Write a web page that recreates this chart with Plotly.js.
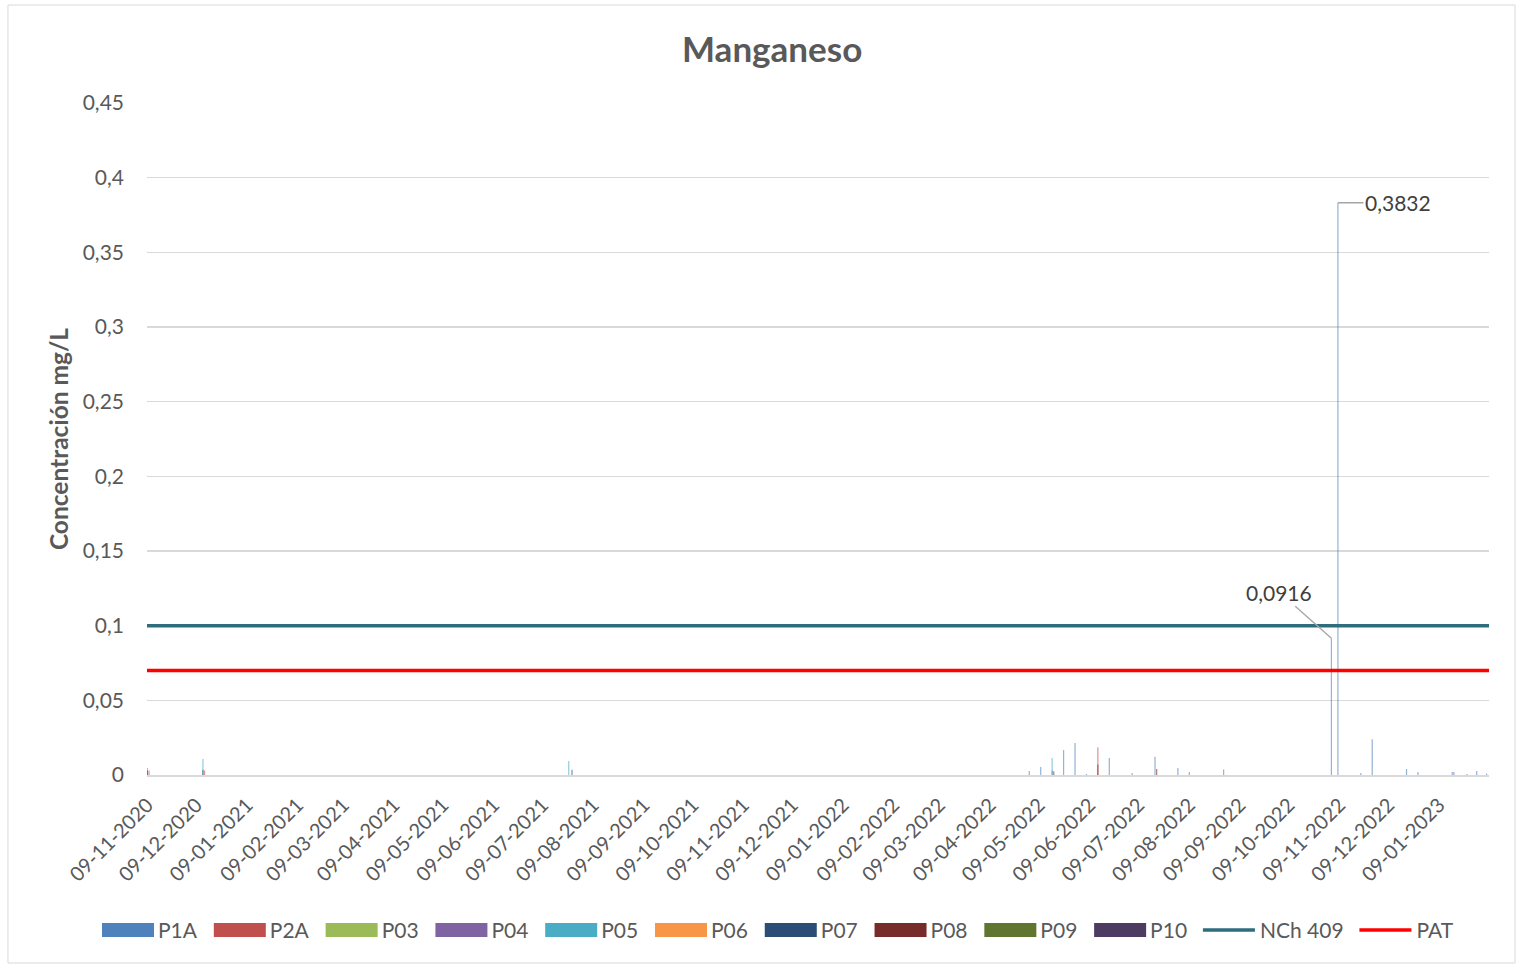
<!DOCTYPE html>
<html>
<head>
<meta charset="utf-8">
<script src="https://cdn.plot.ly/plotly-3.0.1.min.js"></script>
<style>html,body{margin:0;padding:0;background:#fff;}#chart{width:1520px;height:965px;}</style>
</head>
<body>
<div id="chart"></div>
<script>
// ---- Data ----
const seriesNames = ["P1A","P2A","P03","P04","P05","P06","P07","P08","P09","P10"];
const seriesColors = ["#4F81BD","#C0504D","#9BBB59","#8064A2","#4BACC6","#F79646","#2C4D75","#772C2A","#5F7530","#4D3B62"];

const p1aDates = ["2022-05-03","2022-05-10","2022-05-24","2022-05-31","2022-06-07","2022-06-21","2022-07-05","2022-07-19","2022-08-02","2022-08-09","2022-08-30","2022-11-04","2022-11-08","2022-11-22","2022-11-29","2022-12-20","2022-12-27","2023-01-17","2023-01-26","2023-02-01","2023-02-07"];
const p1aValues = [0.0027,0.0054,0.0167,0.0214,0.0007,0.0114,0.0013,0.0123,0.0047,0.0020,0.0036,0.0916,0.3832,0.0013,0.0240,0.0040,0.0020,0.0020,0.0007,0.0027,0.0010];

const p2aDates = ["2020-11-10","2020-12-14","2022-06-14"];
const p2aValues = [0.0030,0.0030,0.0185];

const p03Dates = ["2020-11-09"];
const p03Values = [0];

const p04Dates = ["2022-05-17","2023-01-18"];
const p04Values = [0.0030,0.0020];

const p05Dates = ["2020-11-09","2020-12-13","2021-07-25","2022-05-17"];
const p05Values = [0.0047,0.0107,0.0094,0.0114];

const p06Dates = ["2020-11-09"];
const p06Values = [0];

const p07Dates = ["2020-11-09","2020-12-13","2021-07-27"];
const p07Values = [0.0030,0.0035,0.0035];

const p08Dates = ["2022-05-18","2022-06-14","2022-07-20"];
const p08Values = [0.0025,0.0070,0.0040];

const p09Dates = ["2020-11-09"];
const p09Values = [0];

const p10Dates = ["2020-11-09"];
const p10Values = [0];

const limitDates = ["2020-11-08 18:00","2023-02-08 12:00"];
const nchValues = [0.1,0.1];
const patValues = [0.07,0.07];

const yTicks = [0,0.05,0.1,0.15,0.2,0.25,0.3,0.35,0.4,0.45];

const labelA = {x:"2022-11-04", y:0.0916, text:"0,0916"};
const labelB = {x:"2022-11-08", y:0.3832, text:"0,3832"};

// ---- Build traces ----
const allDates = [p1aDates,p2aDates,p03Dates,p04Dates,p05Dates,p06Dates,p07Dates,p08Dates,p09Dates,p10Dates];
const allValues = [p1aValues,p2aValues,p03Values,p04Values,p05Values,p06Values,p07Values,p08Values,p09Values,p10Values];
const DAY = 86400000;
const traces = seriesNames.map((n,i)=>({
  type:"bar", name:n, x:allDates[i], y:allValues[i],
  width: allDates[i].map(()=>DAY*0.75),
  marker:{color:seriesColors[i], opacity:0.6, line:{width:0}},
  hoverinfo:"x+y+name"
}));
traces.push({type:"scatter", mode:"lines", name:"NCh 409", x:limitDates, y:nchValues, line:{color:"#2E6C7E", width:3.5}});
traces.push({type:"scatter", mode:"lines", name:"PAT", x:limitDates, y:patValues, line:{color:"#FF0000", width:3.5}});

const FONT = "Lato, 'Open Sans', sans-serif";
const layout = {
  width:1520, height:965,
  paper_bgcolor:"#ffffff", plot_bgcolor:"#ffffff",
  separators:",.",
  barmode:"overlay",
  margin:{l:147, r:31, t:103, b:190},
  font:{family:FONT, color:"#595959", size:21},
  title:{text:"<b>Manganeso</b>", font:{family:FONT, size:35, color:"#595959"}, x:0.508, xref:"container", y:0.948, yref:"container", yanchor:"middle"},
  xaxis:{type:"date", range:limitDates, tick0:"2020-11-09", dtick:"M1", tickformat:"%d-%m-%Y", tickangle:-45,
         showgrid:false, showline:true, linecolor:"#d9d9d9", linewidth:1.5, ticks:"", zeroline:false,
         ticklabelstandoff:9, tickfont:{size:20, color:"#595959"}, fixedrange:true},
  yaxis:{range:[0,0.45], tickvals:yTicks, showgrid:true, gridcolor:"#d9d9d9", gridwidth:1.2, zeroline:false,
         showline:false, ticks:"", tickfont:{size:21, color:"#595959"}, ticklabelstandoff:22,
         title:{text:"<b>Concentración mg/L</b>", font:{size:24.5, color:"#595959"}, standoff:7}},
  legend:{orientation:"h", x:0.511, xref:"container", xanchor:"center", y:0.036, yref:"container", yanchor:"middle",
          font:{size:21, color:"#595959"}, itemwidth:52, traceorder:"normal"},
  showlegend:true,
  annotations:[
    {x:labelA.x, y:labelA.y, text:labelA.text, showarrow:true, arrowhead:0, arrowwidth:1.3, arrowcolor:"#a6a6a6", ax:-52, ay:-46, font:{size:21, color:"#404040"}},
    {x:labelB.x, y:labelB.y, text:labelB.text, showarrow:true, arrowhead:0, arrowwidth:1.3, arrowcolor:"#a6a6a6", ax:60, ay:0, font:{size:21, color:"#404040"}}
  ],
  shapes:[
    {type:"rect", xref:"paper", yref:"paper", x0:-0.1036, x1:1.0194, y0:-0.2798, y1:1.1458, line:{color:"#d9d9d9", width:1}, fillcolor:"rgba(0,0,0,0)", layer:"below"}
  ]
};
Plotly.newPlot("chart", traces, layout, {displayModeBar:false, staticPlot:true}).then(gd => {
  // Excel-like legend: wide swatches, spacing as in the original
  gd.querySelectorAll('.legend, .legend [clip-path]').forEach(e => e.removeAttribute('clip-path'));
  const items = Array.from(gd.querySelectorAll('.legend .traces'));
  let cursor = 102;            // page x where the first swatch starts
  const SW = 52, GAP_T = 4, GAP_ITEM = 16.8;
  items.forEach(item => {
    const txt = item.querySelector('.legendtext');
    const textX = parseFloat(txt.getAttribute('x')) || 0;
    const textW = txt.getComputedTextLength();
    const itemCTM = item.getCTM();
    const x0 = textX - GAP_T - SW;
    item.querySelectorAll('.legendpoints path').forEach(p => {
      const off = p.getCTM().e - itemCTM.e;
      const offY = p.getCTM().f - itemCTM.f;
      if (p.classList.contains('js-line')) {
        p.setAttribute('d', `M${x0 - off},${-offY}h${SW}`);
      } else if (p.getAttribute('d')) {
        p.setAttribute('d', `M${x0 - off},${-7 - offY}h${SW}v14h${-SW}Z`);
        p.style.opacity = 1; p.style.fillOpacity = 1;
      }
    });
    const m = item.transform.baseVal.consolidate();
    const curLocalX = m ? m.matrix.e : 0;
    const curLocalY = m ? m.matrix.f : 0;
    const curPageSwatch = itemCTM.e + x0;
    item.setAttribute('transform', `translate(${curLocalX + (cursor - curPageSwatch)},${curLocalY})`);
    cursor += SW + GAP_T + textW + GAP_ITEM;
  });
});
</script>
</body>
</html>
